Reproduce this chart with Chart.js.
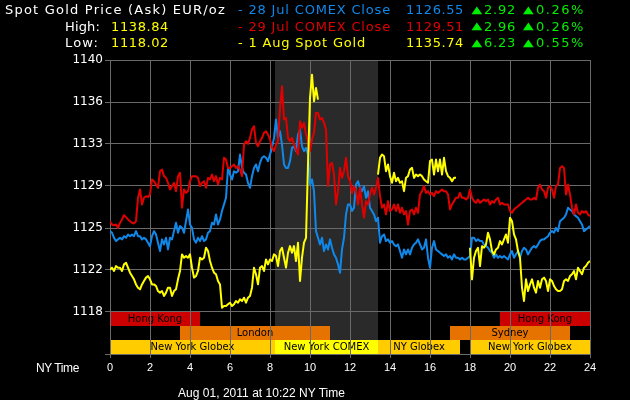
<!DOCTYPE html>
<html><head><meta charset="utf-8">
<script src="https://cdn.jsdelivr.net/npm/chart.js@4"></script>
<style>
html,body{margin:0;padding:0;background:#000;}
#wrap{position:relative;width:630px;height:400px;overflow:hidden;background:#000;}
#c{position:absolute;left:0;top:0;}
.t{position:absolute;white-space:nowrap;font-family:"DejaVu Sans";font-size:13px;line-height:13px;}
.s{position:absolute;white-space:nowrap;font-family:"Liberation Sans";font-size:12px;line-height:12px;color:#fff;}
.tri{position:absolute;white-space:nowrap;font-family:"DejaVu Sans";font-size:14px;line-height:14px;color:#00ee00;transform:scale(1,0.72);transform-origin:50% 50%;}
</style></head>
<body><div id="wrap"><canvas id="c" width="630" height="400"></canvas></div>
<script>
// ---------- DATA ----------
const hours = [
0,0.1,0.2,0.3,0.4,0.5,0.6,0.7,0.8,0.9,
1,1.1,1.2,1.3,1.4,1.5,1.6,1.7,1.8,1.9,
2,2.1,2.2,2.3,2.4,2.5,2.6,2.7,2.8,2.9,
3,3.1,3.2,3.3,3.4,3.5,3.6,3.7,3.8,3.9,
4,4.1,4.2,4.3,4.4,4.5,4.6,4.7,4.8,4.9,
5,5.1,5.2,5.3,5.4,5.5,5.6,5.7,5.8,5.9,
6,6.1,6.2,6.3,6.4,6.5,6.6,6.7,6.8,6.9,
7,7.1,7.2,7.3,7.4,7.5,7.6,7.7,7.8,7.9,
8,8.1,8.2,8.3,8.4,8.5,8.6,8.7,8.8,8.9,
9,9.1,9.2,9.3,9.4,9.5,9.6,9.7,9.8,9.9,
10,10.1,10.2,10.3,10.4,10.5,10.6,10.7,10.8,10.9,
11,11.1,11.2,11.3,11.4,11.5,11.6,11.7,11.8,11.9,
12,12.1,12.2,12.3,12.4,12.5,12.6,12.7,12.8,12.9,
13,13.1,13.2,13.3,13.4,13.5,13.6,13.7,13.8,13.9,
14,14.1,14.2,14.3,14.4,14.5,14.6,14.7,14.8,14.9,
15,15.1,15.2,15.3,15.4,15.5,15.6,15.7,15.8,15.9,
16,16.1,16.2,16.3,16.4,16.5,16.6,16.7,16.8,16.9,
17,17.1,17.2,17.3,17.4,17.5,17.6,17.7,17.8,17.9,
18,18.1,18.2,18.3,18.4,18.5,18.6,18.7,18.8,18.9,
19,19.1,19.2,19.3,19.4,19.5,19.6,19.7,19.8,19.9,
20,20.1,20.2,20.3,20.4,20.5,20.6,20.7,20.8,20.9,
21,21.1,21.2,21.3,21.4,21.5,21.6,21.7,21.8,21.9,
22,22.1,22.2,22.3,22.4,22.5,22.6,22.7,22.8,22.9,
23,23.1,23.2,23.3,23.4,23.5,23.6,23.7,23.8,23.9,
24];

// 29 Jul COMEX Close (red)
const jul29 = [
1125.93,1125.64,1125.56,1125.64,1125.35,1125.79,1126.08,1126.46,1126.28,1126.08,
1125.93,1125.79,1125.73,1125.93,1127.97,1128.70,1127.39,1127.97,1128.11,1128.03,
1128.26,1129.57,1129.42,1129.13,1128.84,1130.29,1130.44,1129.86,1129.71,1129.28,
1128.70,1128.99,1129.28,1128.55,1129.86,1130.15,1127.10,1128.70,1128.40,1128.55,
1129.42,1129.86,1129.86,1129.86,1129.71,1128.99,1129.28,1129.42,1128.84,1129.71,
1129.57,1130.00,1129.42,1129.86,1129.13,1129.71,1129.57,1131.46,1131.31,1130.58,
1130.58,1130.73,1130.88,1130.58,1130.73,1130.44,1129.86,1132.62,1132.91,1132.68,
1133.20,1133.93,1134.22,1132.76,1132.47,1132.91,1133.20,1133.64,1133.78,1133.49,
1133.06,1132.33,1132.04,1132.62,1132.91,1135.82,1137.70,1134.80,1134.94,1133.20,
1132.91,1133.20,1132.62,1132.18,1131.75,1134.65,1134.07,1134.51,1133.49,1132.91,
1132.04,1133.06,1133.64,1135.38,1135.38,1134.80,1134.94,1134.51,1133.93,1128.99,
1130.88,1131.02,1130.00,1127.39,1128.55,1130.58,1129.71,1130.29,1131.46,1129.86,
1129.42,1128.40,1128.99,1128.55,1127.39,1128.84,1127.39,1126.23,1127.68,1127.39,
1128.26,1128.84,1128.26,1128.84,1129.71,1128.11,1127.10,1127.39,1126.52,1127.68,
1126.81,1126.95,1127.39,1126.81,1127.39,1126.66,1127.10,1126.52,1126.81,1125.64,
1126.81,1126.95,1126.52,1127.10,1126.66,1128.26,1128.55,1128.99,1128.40,1128.55,
1128.26,1128.40,1128.11,1128.55,1128.40,1128.55,1128.70,1128.55,1128.55,1128.26,
1126.95,1127.39,1127.68,1127.97,1127.97,1128.40,1127.97,1127.97,1127.82,1127.97,
1128.70,1127.97,1127.68,1127.53,1127.82,1127.53,1127.68,1127.82,1127.68,1127.82,
1127.39,1127.68,1127.53,1127.82,1127.97,1127.39,1127.53,1127.39,1127.39,1127.39,
1126.81,1126.66,1126.95,1127.10,1127.24,1127.39,1127.53,1127.68,1127.82,1127.97,
1127.82,1127.82,1127.97,1127.82,1128.84,1129.13,1128.70,1128.55,1127.97,1128.84,
1128.99,1128.70,1127.97,1128.99,1129.13,1130.58,1130.73,1130.58,1128.26,1129.13,
1128.26,1127.10,1126.52,1127.39,1126.66,1126.52,1126.81,1126.66,1126.81,1126.52,
1126.37];

// 28 Jul COMEX Close (blue)
const jul28 = [
1125.06,1124.92,1124.48,1124.19,1124.34,1124.48,1124.34,1124.62,1124.48,1124.77,
1124.62,1124.77,1124.62,1125.06,1124.62,1124.62,1124.34,1124.48,1124.34,1124.05,
1123.75,1124.62,1125.06,1124.77,1124.05,1123.32,1124.34,1123.90,1124.48,1123.46,
1124.48,1124.34,1125.06,1125.79,1124.92,1125.50,1125.35,1124.92,1125.93,1126.95,
1125.64,1125.35,1124.34,1124.05,1124.48,1124.19,1124.62,1124.19,1124.34,1124.92,
1125.06,1125.79,1125.64,1126.52,1125.64,1126.08,1126.81,1127.39,1127.97,1130.58,
1130.00,1129.57,1130.29,1130.15,1130.29,1131.75,1130.58,1130.15,1130.00,1129.28,
1128.84,1129.86,1130.58,1130.88,1130.29,1131.02,1131.46,1131.60,1131.46,1131.17,
1131.75,1132.33,1133.20,1134.80,1133.20,1133.78,1132.62,1130.88,1130.58,1130.58,
1131.17,1132.33,1132.47,1132.04,1133.49,1133.93,1132.47,1132.04,1132.33,1131.75,
1129.13,1129.57,1128.55,1125.06,1124.48,1123.90,1124.48,1123.32,1123.90,1123.46,
1124.34,1123.61,1123.03,1122.74,1122.16,1121.43,1123.46,1124.48,1126.52,1127.39,
1127.39,1126.81,1127.10,1129.13,1129.42,1128.84,1128.55,1128.99,1127.97,1128.55,
1127.10,1126.81,1126.52,1125.93,1126.23,1124.05,1124.62,1124.77,1124.19,1124.34,
1124.05,1124.19,1123.90,1123.75,1123.90,1123.32,1122.74,1123.46,1123.03,1123.46,
1123.03,1123.61,1123.90,1124.05,1124.34,1123.90,1123.46,1123.61,1124.34,1122.74,
1121.87,1123.61,1124.19,1123.46,1123.32,1123.17,1123.03,1122.88,1123.03,1122.74,
1122.88,1122.59,1123.03,1122.74,1122.74,1122.59,1122.74,1122.59,1122.59,1122.74,
1122.88,1124.48,1124.48,1124.19,1124.34,1124.19,1124.19,1123.90,1123.75,1123.61,
1123.32,1123.17,1122.74,1123.03,1122.74,1122.88,1122.74,1122.88,1122.74,1122.59,
1123.03,1123.32,1122.74,1123.03,1123.32,1122.74,1123.32,1123.61,1123.46,1123.03,
1123.32,1123.61,1123.75,1123.61,1123.90,1124.19,1124.34,1124.34,1124.48,1124.62,
1124.92,1125.06,1124.92,1125.35,1125.06,1125.93,1126.08,1126.23,1126.52,1127.10,
1126.95,1126.81,1126.52,1126.37,1126.23,1125.93,1125.64,1125.06,1125.21,1125.35,
1125.50];

// 1 Aug Spot Gold (yellow)
const aug1 = [
1121.72,1121.87,1121.58,1122.01,1121.87,1121.87,1121.58,1122.16,1122.30,1121.87,
1121.43,1121.14,1120.85,1120.41,1120.12,1119.98,1120.41,1120.71,1121.00,1121.14,
1120.85,1120.41,1120.41,1120.27,1119.83,1119.69,1119.83,1119.40,1119.69,1120.12,
1120.12,1119.40,1119.83,1119.98,1120.85,1121.58,1123.03,1122.74,1122.88,1122.74,
1123.03,1121.87,1121.00,1121.14,1121.58,1122.74,1122.59,1122.74,1123.61,1123.32,
1122.45,1121.87,1121.43,1121.29,1120.71,1120.41,1118.38,1118.52,1118.52,1118.67,
1118.81,1118.52,1118.67,1118.96,1118.81,1119.11,1118.96,1119.25,1118.81,1119.25,
1119.40,1120.12,1121.87,1121.29,1120.41,1121.87,1122.01,1121.58,1122.59,1122.16,
1122.59,1122.45,1123.03,1122.88,1122.01,1123.32,1123.61,1122.74,1121.87,1123.17,
1123.75,1123.17,1123.75,1122.45,1124.05,1120.71,1122.74,1124.05,1124.48,1130.88,
1136.69,1138.72,1136.40,1137.56,1136.54,null,null,null,null,null,
null,null,null,null,null,null,null,null,null,null,
null,null,null,null,null,null,null,null,null,null,
null,null,null,null,1130.00,1131.46,1131.75,1131.60,1130.29,1130.88,
1129.86,1129.28,1130.15,1129.42,1129.71,1129.28,1129.42,1128.55,1129.71,1129.86,
1130.44,1130.58,1129.71,1130.00,1129.86,1130.00,1129.86,1129.57,1129.42,1129.28,
1131.17,1131.31,1130.00,1131.31,1130.29,1131.31,1130.00,1131.46,1130.29,1129.86,
1129.71,1129.42,1129.71,1129.71,null,null,null,null,null,null,
1123.61,1120.85,1122.74,1123.32,1123.61,1122.01,1123.75,1123.61,1123.90,1124.92,
1124.34,1123.32,1123.03,1123.46,1123.61,1124.19,1123.90,1124.34,1124.77,1124.05,
1126.23,1125.93,1124.77,1124.34,1123.32,1122.74,1120.12,1118.96,1120.85,1119.83,
1120.41,1120.85,1120.12,1119.69,1120.71,1120.12,1120.85,1121.00,1120.71,1119.83,
1120.85,1120.71,1120.27,1119.98,1119.83,1119.83,1119.98,1120.71,1120.85,1120.71,
1121.14,1121.29,1121.58,1120.85,1121.87,1121.58,1121.29,1121.87,1122.01,1122.30,
1122.45];

const xTickHours = [0,2,4,6,8,10,12,14,16,18,20,22,24];
const yTickValues = [1114.333,1118,1121.667,1125.333,1129,1132.667,1136.333,1140];
const yMin = 1114.333, yMax = 1140;

const comexShade = [8.25, 13.4];
const sessionNames = ['Hong Kong','London','New York Globex','New York COMEX','NY Globex','Sydney','New York Globex','Hong Kong'];
const sessionStart = [0, 3.5, 0, 8.25, 13.4, 17, 18, 19.5];
const sessionEnd   = [4.5, 11, 8.25, 13.4, 17.5, 23, 24, 24];
const sessionMarket = ['hk','eu','globex','comex','globex','eu','globex','hk'];

const titleText = 'Spot Gold Price (Ask) EUR/oz';
const highLow = [['High:','1138.84'],['Low:','1118.02']];
const legendLabels = ['- 28 Jul COMEX Close','- 29 Jul COMEX Close','- 1 Aug Spot Gold'];
const legendValues = ['1126.55','1129.51','1135.74'];
const legendChange = ['2.92','2.96','6.23'];
const legendPct = ['0.26%','0.26%','0.55%'];
const footerText = 'Aug 01, 2011 at 10:22 NY Time';
const xAxisName = 'NY Time';

// ---------- STYLES ----------
const marketStyle = {hk:'#cc0000', eu:'#e67300', globex:'#ffcc00', comex:'#ffff00'};
const seriesColors = ['#1088ea','#e00000','#ffff00']; // 28 Jul, 29 Jul, 1 Aug
const gridColor = '#6a6a6a';

// ---------- HTML TEXT ----------
const wrap = document.getElementById('wrap');
function put(cls, text, left, baseline, width, color, baseOff){
  const el = document.createElement('div');
  el.className = cls; el.textContent = text;
  el.style.left = left + 'px';
  el.style.top = (baseline - baseOff) + 'px';
  if (color) el.style.color = color;
  wrap.appendChild(el);
  if (width){
    const w = el.getBoundingClientRect().width;
    const n = text.length;
    el.style.letterSpacing = ((width - w) / n) + 'px';
  }
  return el;
}
const rowsBase = [14, 30.7, 47.3];
const TB = 11.0;
put('t', titleText, 5, rowsBase[0], 221, '#ffffff', TB);
put('t', highLow[0][0], 65, rowsBase[1], 35, '#ffffff', TB);
put('t', highLow[0][1], 111, rowsBase[1], 58, '#ffff00', TB);
put('t', highLow[1][0], 65, rowsBase[2], 34, '#ffffff', TB);
put('t', highLow[1][1], 111, rowsBase[2], 58, '#ffff00', TB);
const labelW = [153,153,128];
for (let i=0;i<3;i++){
  const b = rowsBase[i];
  put('t', legendLabels[i], 238, b, labelW[i], seriesColors[i], TB);
  put('t', legendValues[i], 406, b, 58, seriesColors[i], TB);
  const t1 = document.createElement('div'); t1.className='tri'; t1.textContent='\u25B2';
  t1.style.left='471.5px'; t1.style.top=(b-12.5)+'px'; wrap.appendChild(t1);
  put('t', legendChange[i], 484, b, 32, '#00ee00', TB);
  const t2 = document.createElement('div'); t2.className='tri'; t2.textContent='\u25B2';
  t2.style.left='523px'; t2.style.top=(b-12.5)+'px'; wrap.appendChild(t2);
  put('t', legendPct[i], 536, b, 49, '#00ee00', TB);
}
put('s', footerText, 178, 396.7, 167, null, 10.2);
const nyEl = put('s', xAxisName, 36, 371.7, 43, null, 10.2);

// ---------- CHART ----------
const bgPlugin = {
  id:'sessions',
  beforeDraw(chart){
    const {ctx, chartArea:a, scales:{x, y}} = chart;
    ctx.save();
    ctx.fillStyle = '#000';
    ctx.fillRect(0,0,chart.width,chart.height);
    const s0 = x.getPixelForValue(comexShade[0]), s1 = x.getPixelForValue(comexShade[1]);
    ctx.fillStyle = '#2a2a2a';
    ctx.fillRect(s0, a.top, s1-s0, a.bottom-a.top);
    const top = y.getPixelForValue(1118);
    const rowH = (a.bottom - top)/3;
    const rowOf = {hk:0, eu:1, globex:2, comex:2};
    ctx.font = '10px "DejaVu Sans"';
    ctx.textAlign = 'center';
    ctx.textBaseline = 'middle';
    for (let i=0;i<sessionNames.length;i++){
      const x0 = x.getPixelForValue(sessionStart[i]);
      const x1 = x.getPixelForValue(sessionEnd[i]);
      const r = rowOf[sessionMarket[i]];
      const yy = top + r*rowH;
      ctx.fillStyle = marketStyle[sessionMarket[i]];
      ctx.fillRect(x0, yy, x1-x0, rowH);
      ctx.fillStyle = '#000';
      ctx.fillText(sessionNames[i], (x0+x1)/2, yy + rowH/2 + 0.5);
    }
    ctx.restore();
  }
};

function series(vals){ return hours.map((h,i)=>({x:h, y:vals[i]})); }

new Chart(document.getElementById('c'), {
  type:'line',
  data:{datasets:[
    {label:'1 Aug Spot Gold', data:series(aug1), borderColor:seriesColors[2]},
    {label:'29 Jul COMEX Close', data:series(jul29), borderColor:seriesColors[1]},
    {label:'28 Jul COMEX Close', data:series(jul28), borderColor:seriesColors[0]}
  ]},
  options:{
    responsive:false, animation:false, devicePixelRatio:1,
    spanGaps:false, parsing:false, normalized:true,
    layout:{padding:{top:60,right:40,left:0,bottom:0}},
    plugins:{legend:{display:false}, tooltip:{enabled:false}, title:{display:false}},
    elements:{point:{radius:0}, line:{borderWidth:2, tension:0, borderJoinStyle:'round', fill:false}},
    scales:{
      x:{type:'linear', min:0, max:24,
        afterBuildTicks(s){ s.ticks = xTickHours.map(v=>({value:v})); },
        ticks:{color:'#ffffff', font:{family:'Liberation Sans', size:11}, padding:3, maxRotation:0, autoSkip:false},
        grid:{color:gridColor, lineWidth:1, tickLength:4},
        border:{color:gridColor},
        afterFit(s){ s.height = 46; }
      },
      y:{type:'linear', min:yMin, max:yMax,
        afterBuildTicks(s){ s.ticks = yTickValues.map(v=>({value:v})); },
        ticks:{color:'#ffffff', font:{family:'DejaVu Sans', size:12}, padding:2,
          callback:(v)=> v < 1117 ? '' : String(Math.round(v))},
        grid:{color:gridColor, lineWidth:1, tickLength:5},
        border:{color:gridColor},
        afterFit(s){ s.width = 110; }
      }
    }
  },
  plugins:[bgPlugin]
});
</script>
</body></html>
